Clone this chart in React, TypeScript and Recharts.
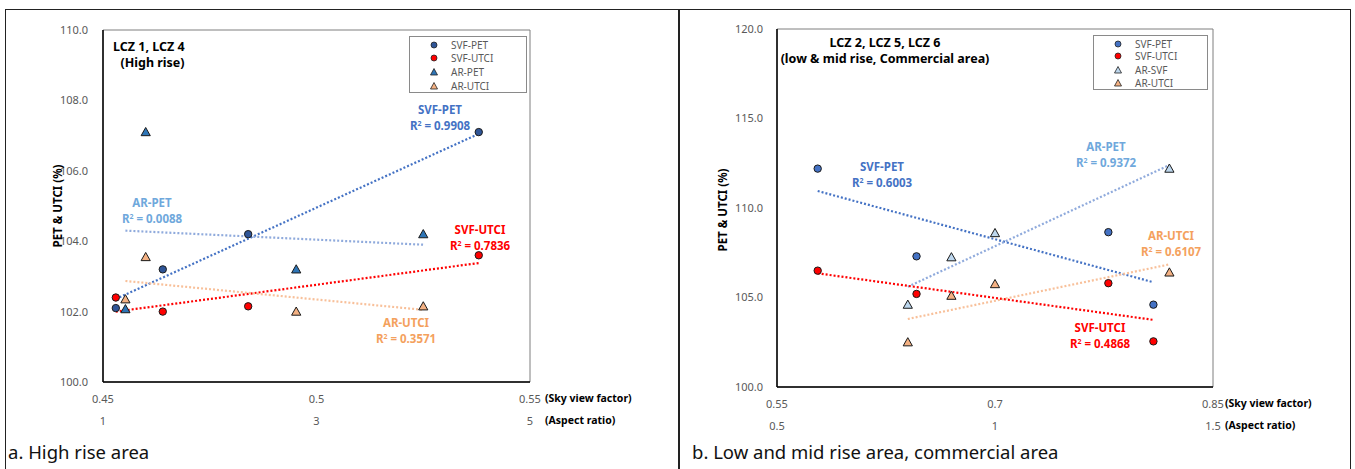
import React from 'react'
import { ScatterChart, Scatter, XAxis, YAxis, ReferenceArea } from 'recharts'

// a. high rise area (LCZ 1, LCZ 4)
const hrSvf = [0.453, 0.464, 0.484, 0.538]
const hrSvfPet = [102.1, 103.2, 104.2, 107.1]
const hrSvfUtci = [102.4, 102.0, 102.15, 103.6]
const hrAr = [1.21, 1.4, 2.81, 4.0]
const hrArPet = [102.07, 107.1, 103.2, 104.2]
const hrArUtci = [102.35, 103.55, 102.0, 102.15]
// trendline ends
const hrSvfEnds = [0.453, 0.538]
const hrSvfPetTrend = [102.36, 107.05]
const hrSvfUtciTrend = [102.0, 103.38]
const hrArEnds = [1.21, 4.0]
const hrArPetTrend = [104.3, 103.9]
const hrArUtciTrend = [102.87, 102.05]
const hrSvfTicks = [0.45, 0.5, 0.55]
const hrArTicks = [1, 3, 5]
const hrYTicks = [100, 102, 104, 106, 108, 110]

// b. low & mid rise, commercial (LCZ 2, 5, 6)
const lmSvf = [0.578, 0.646, 0.778, 0.809]
const lmSvfPet = [112.2, 107.3, 108.65, 104.6]
const lmSvfUtci = [106.5, 105.2, 105.8, 102.55]
const lmAr = [0.8, 0.9, 1.0, 1.4]
const lmArPet = [104.6, 107.25, 108.6, 112.2]
const lmArUtci = [102.5, 105.1, 105.75, 106.4]
const lmSvfEnds = [0.578, 0.809]
const lmSvfPetTrend = [110.95, 105.85]
const lmSvfUtciTrend = [106.35, 103.75]
const lmArEnds = [0.8, 1.4]
const lmArPetTrend = [105.6, 112.4]
const lmArUtciTrend = [103.8, 106.85]
const lmSvfTicks = [0.55, 0.7, 0.85]
const lmArTicks = [0.5, 1, 1.5]
const lmYTicks = [100, 105, 110, 115, 120]

const FONT = '"Noto Sans", "Open Sans", sans-serif'
const TICK = '#595959'
const pts = (xs: number[], ys: number[]) => xs.map((x, i) => ({ x, y: ys[i] }))

const circle = (fill: string) => (p: any) => (
  <circle cx={p.cx} cy={p.cy} r={3.7} fill={fill} stroke="#1a1a1a" strokeWidth={1} />
)
const triangle = (fill: string) => (p: any) => (
  <path d={`M${p.cx},${p.cy - 4.6}L${p.cx + 4.6},${p.cy + 3.6}L${p.cx - 4.6},${p.cy + 3.6}Z`} fill={fill} stroke="#1a1a1a" strokeWidth={1} />
)
const none = () => <g />

const xTick = (last: number, unit: string, shift: number) => (p: any) => {
  const v = p.payload.value
  return (
    <g>
      <text x={p.x} y={p.y + 16} dominantBaseline="central" textAnchor="middle" fontSize={11} fill={TICK} fontFamily={FONT}>{String(v)}</text>
      {v === last && (
        <text x={p.x + shift} y={p.y + 16} dominantBaseline="central" textAnchor="start" fontSize={10.5} fontWeight="bold" fill="#000" fontFamily={FONT}>{unit}</text>
      )}
    </g>
  )
}

type Series = { svf: number[]; svfPet: number[]; svfUtci: number[]; ar: number[]; arPet: number[]; arUtci: number[];
  svfEnds: number[]; svfPetTrend: number[]; svfUtciTrend: number[]; arEnds: number[]; arPetTrend: number[]; arUtciTrend: number[] }

// svf axis sits next to the plot, aspect ratio axis below it
const SVF = 'a_svf'
const AR = 'z_ar'

function Panel(props: {
  width: number; margin: any; yMargin: number; svfTicks: number[]; arTicks: number[]; yTicks: number[];
  s: Series; svfPetFill: string; arPetFill: string; shift: number
}) {
  const { s, svfTicks, arTicks, yTicks } = props
  const dotted = (stroke: string) => ({ stroke, strokeWidth: 2.2, strokeDasharray: '2 2' })
  return (
    <ScatterChart width={props.width} height={469} margin={props.margin}>
      <XAxis xAxisId={AR} type="number" dataKey="x" domain={[arTicks[0], arTicks[2]]} ticks={arTicks}
        allowDataOverflow height={22} tickLine={false} tickSize={0} tickMargin={0}
        axisLine={false} tick={xTick(arTicks[2], '(Aspect ratio)', props.shift)} />
      <XAxis xAxisId={SVF} type="number" dataKey="x" domain={[svfTicks[0], svfTicks[2]]} ticks={svfTicks}
        allowDataOverflow height={22} tickLine={false} tickSize={0} tickMargin={0}
        axisLine={{ stroke: '#000', strokeWidth: 1.5 }} tick={xTick(svfTicks[2], '(Sky view factor)', props.shift)} />
      <YAxis type="number" dataKey="y" domain={[yTicks[0], yTicks[yTicks.length - 1]]} ticks={yTicks} width={63}
        tickLine={false} tickMargin={props.yMargin} axisLine={{ stroke: '#000', strokeWidth: 1.5 }}
        tickFormatter={(v: number) => v.toFixed(1)} tick={{ fontSize: 11, fill: TICK, fontFamily: FONT }} />
      <ReferenceArea xAxisId={SVF} x1={svfTicks[0]} x2={svfTicks[2]} y1={yTicks[0]} y2={yTicks[yTicks.length - 1]}
        fill="none" stroke="#7f7f7f" strokeWidth={1} />
      <Scatter xAxisId={SVF} data={pts(s.svfEnds, s.svfPetTrend)} line={dotted('#4472C4')} shape={none} isAnimationActive={false} />
      <Scatter xAxisId={AR} data={pts(s.arEnds, s.arPetTrend)} line={dotted('#8FAADC')} shape={none} isAnimationActive={false} />
      <Scatter xAxisId={SVF} data={pts(s.svfEnds, s.svfUtciTrend)} line={dotted('#FF0000')} shape={none} isAnimationActive={false} />
      <Scatter xAxisId={AR} data={pts(s.arEnds, s.arUtciTrend)} line={dotted('#F8C09A')} shape={none} isAnimationActive={false} />
      <Scatter xAxisId={SVF} data={pts(s.svf, s.svfPet)} shape={circle(props.svfPetFill)} isAnimationActive={false} />
      <Scatter xAxisId={SVF} data={pts(s.svf, s.svfUtci)} shape={circle('#FF0000')} isAnimationActive={false} />
      <Scatter xAxisId={AR} data={pts(s.ar, s.arPet)} shape={triangle(props.arPetFill)} isAnimationActive={false} />
      <Scatter xAxisId={AR} data={pts(s.ar, s.arUtci)} shape={triangle('#F4B183')} isAnimationActive={false} />
    </ScatterChart>
  )
}

function Note({ x, y, color, name, r2 }: { x: number; y: number; color: string; name: string; r2: string }) {
  return (
    <div style={{ position: 'absolute', left: x - 60, top: y - 8, width: 120, textAlign: 'center', color, fontWeight: 'bold', fontSize: 11.5, lineHeight: '14px', fontFamily: FONT }}>
      <div>{name}</div>
      <div>R<sup style={{ fontSize: 7, verticalAlign: 4 }}>2</sup> = {r2}</div>
    </div>
  )
}

function LegendBox({ x, y, w, h, names, svfPetFill, arPetFill, mx, tx, rows }: any) {
  const marks = [
    <circle cx={5} cy={5} r={3} fill={svfPetFill} stroke="#222" strokeWidth={0.8} />,
    <circle cx={5} cy={5} r={3} fill="#FF0000" stroke="#222" strokeWidth={0.8} />,
    <path d="M5,1.5L8.5,8L1.5,8Z" fill={arPetFill} stroke="#222" strokeWidth={0.8} />,
    <path d="M5,1.5L8.5,8L1.5,8Z" fill="#F4B183" stroke="#222" strokeWidth={0.8} />,
  ]
  return (
    <div style={{ position: 'absolute', left: x, top: y, width: w, height: h, border: '1px solid #8a8a8a', boxSizing: 'border-box', background: '#fff' }}>
      {names.map((n: string, i: number) => (
        <div key={n} style={{ position: 'absolute', left: 0, top: rows[i] - y - 7, height: 14, width: w }}>
          <svg width={10} height={10} style={{ position: 'absolute', left: mx - x - 5, top: 2 }}>{marks[i]}</svg>
          <span style={{ position: 'absolute', left: tx - x, top: 0, fontSize: 10, lineHeight: '14px', color: TICK, fontFamily: FONT }}>{n}</span>
        </div>
      ))}
    </div>
  )
}

const vLabel = (x: number, y: number) => (
  <div style={{ position: 'absolute', left: x - 60, top: y - 8, width: 120, textAlign: 'center', transform: 'rotate(-90deg)', fontSize: 11.5, fontWeight: 'bold', lineHeight: '16px', fontFamily: FONT }}>
    PET &amp; UTCI (%)
  </div>
)

export default function App() {
  const hr: Series = { svf: hrSvf, svfPet: hrSvfPet, svfUtci: hrSvfUtci, ar: hrAr, arPet: hrArPet, arUtci: hrArUtci,
    svfEnds: hrSvfEnds, svfPetTrend: hrSvfPetTrend, svfUtciTrend: hrSvfUtciTrend, arEnds: hrArEnds, arPetTrend: hrArPetTrend, arUtciTrend: hrArUtciTrend }
  const lm: Series = { svf: lmSvf, svfPet: lmSvfPet, svfUtci: lmSvfUtci, ar: lmAr, arPet: lmArPet, arUtci: lmArUtci,
    svfEnds: lmSvfEnds, svfPetTrend: lmSvfPetTrend, svfUtciTrend: lmSvfUtciTrend, arEnds: lmArEnds, arPetTrend: lmArPetTrend, arUtciTrend: lmArUtciTrend }
  return (
    <div style={{ position: 'absolute', left: 0, top: 0, width: 1355, height: 469, overflow: 'hidden', background: '#fff', fontFamily: FONT }}>
      <div style={{ position: 'absolute', left: 5, top: 9, width: 1346, height: 480, border: '1.5px solid #222', boxSizing: 'border-box' }} />
      <div style={{ position: 'absolute', left: 678, top: 9, width: 1.5, height: 480, background: '#222' }} />

      <div style={{ position: 'absolute', left: 0, top: 0 }}>
        <Panel width={680} margin={{ top: 30, right: 150, bottom: 43, left: 40 }} yMargin={9} svfTicks={hrSvfTicks} arTicks={hrArTicks}
          yTicks={hrYTicks} s={hr} svfPetFill="#2F5597" arPetFill="#2E75B6" shift={15} />
      </div>
      <div style={{ position: 'absolute', left: 680, top: 0 }}>
        <Panel width={675} margin={{ top: 29, right: 142, bottom: 38, left: 34 }} yMargin={8} svfTicks={lmSvfTicks} arTicks={lmArTicks}
          yTicks={lmYTicks} s={lm} svfPetFill="#4472C4" arPetFill="#BDD7EE" shift={12} />
      </div>

      {vLabel(58, 206)}
      {vLabel(723, 210)}

      <div style={{ position: 'absolute', left: 90, top: 39, width: 125, textAlign: 'center', fontWeight: 'bold', fontSize: 12.5, lineHeight: '16px' }}>
        <div style={{ textAlign: 'left', paddingLeft: 23 }}>LCZ 1, LCZ 4</div>
        <div>(High rise)</div>
      </div>
      <div style={{ position: 'absolute', left: 735, top: 35, width: 300, textAlign: 'center', fontWeight: 'bold', fontSize: 12.5, lineHeight: '16px' }}>
        <div>LCZ 2, LCZ 5, LCZ 6</div>
        <div>(low &amp; mid rise, Commercial area)</div>
      </div>

      <LegendBox x={409} y={36} w={118} h={57} names={['SVF-PET', 'SVF-UTCI', 'AR-PET', 'AR-UTCI']} svfPetFill="#2F5597" arPetFill="#2E75B6"
        mx={433} tx={450} rows={[44, 57, 71, 85]} />
      <LegendBox x={1093} y={35} w={115} h={55} names={['SVF-PET', 'SVF-UTCI', 'AR-SVF', 'AR-UTCI']} svfPetFill="#4472C4" arPetFill="#BDD7EE"
        mx={1117} tx={1134} rows={[43, 55, 69, 82]} />

      <Note x={440} y={111} color="#4472C4" name="SVF-PET" r2="0.9908" />
      <Note x={152} y={204} color="#6FA8DC" name="AR-PET" r2="0.0088" />
      <Note x={480} y={231} color="#FF0000" name="SVF-UTCI" r2="0.7836" />
      <Note x={406} y={324} color="#F4A15D" name="AR-UTCI" r2="0.3571" />

      <Note x={882} y={168} color="#4472C4" name="SVF-PET" r2="0.6003" />
      <Note x={1106} y={148} color="#6FA8DC" name="AR-PET" r2="0.9372" />
      <Note x={1171} y={237} color="#F4A15D" name="AR-UTCI" r2="0.6107" />
      <Note x={1100} y={329} color="#FF0000" name="SVF-UTCI" r2="0.4868" />

      <div style={{ position: 'absolute', left: 8, top: 440, fontSize: 18.5, lineHeight: '24px', color: '#111' }}>a. High rise area</div>
      <div style={{ position: 'absolute', left: 692, top: 440, fontSize: 18.5, lineHeight: '24px', color: '#111' }}>b. Low and mid rise area, commercial area</div>
    </div>
  )
}
